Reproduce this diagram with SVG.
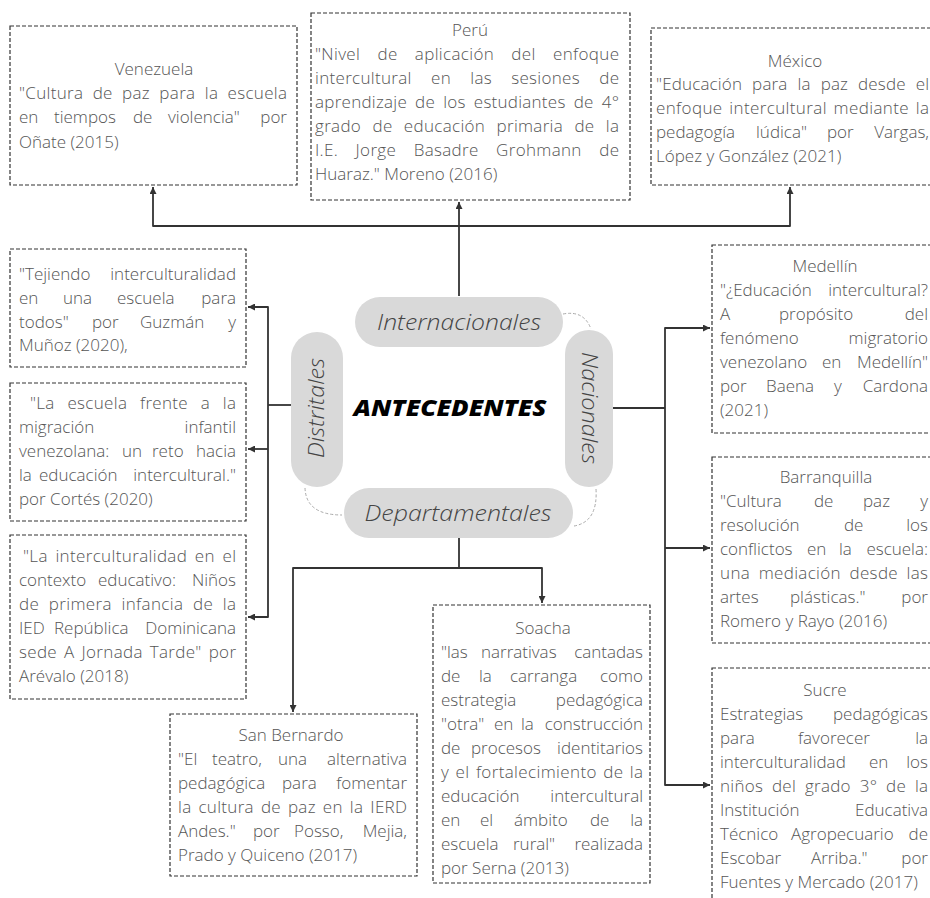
<svg xmlns="http://www.w3.org/2000/svg" width="930" height="898" viewBox="0 0 930 898">
<defs>
<style>
.box{fill:#fff;stroke:#333;stroke-width:1.2;stroke-dasharray:4 2}
.t{font-family:"Open Sans","Liberation Sans",sans-serif;font-size:17px;font-weight:300;fill:#555}
.e{text-anchor:end}
.m{text-anchor:middle}
.pill{fill:#d9d9d9}
.pt{font-family:"Open Sans","Liberation Sans",sans-serif;font-style:italic;font-size:22px;font-weight:300;fill:#444;text-anchor:middle}
.conn path{fill:none;stroke:#333;stroke-width:1.8;stroke-linejoin:round}
.conn path.arc{fill:none;stroke:#aaa;stroke-width:1;stroke-dasharray:3 2}
</style>
<marker id="ah" viewBox="0 0 10 10" refX="10" refY="5" markerWidth="7" markerHeight="7" markerUnits="userSpaceOnUse" orient="auto">
<path d="M0,0 L10,5 L0,10 z" fill="#333"/>
</marker>
</defs>
<rect width="930" height="898" fill="#fff"/>

<g id="connectors" class="conn">
<path d="M459,226 H153 V187" marker-end="url(#ah)"/>
<path d="M459,226 H790 V187" marker-end="url(#ah)"/>
<path d="M459,296 V202" marker-end="url(#ah)"/>
<path d="M291,405 H268"/>
<path d="M268,405 V307 H248" marker-end="url(#ah)"/>
<path d="M268,405 V617 H248" marker-end="url(#ah)"/>
<path d="M268,449 H248" marker-end="url(#ah)"/>
<path d="M613,408 H665"/>
<path d="M665,408 V328 H710" marker-end="url(#ah)"/>
<path d="M665,408 V785 H710" marker-end="url(#ah)"/>
<path d="M665,548 H710" marker-end="url(#ah)"/>
<path d="M459,538 V568"/>
<path d="M459,568 H293 V712" marker-end="url(#ah)"/>
<path d="M459,568 H542 V603" marker-end="url(#ah)"/>
<path class="arc" d="M563,314 Q584,310 591,329"/>
<path class="arc" d="M305,488 Q306,515 342,515"/>
<path class="arc" d="M596,489 Q598,522 574,526"/>
</g>

<g id="center">
<text x="450" y="416" text-anchor="middle" textLength="193" lengthAdjust="spacingAndGlyphs" style="font-family:'Open Sans','Liberation Sans',sans-serif;font-size:23px;font-weight:800;font-style:italic;fill:#000">ANTECEDENTES</text>
</g>

<g id="internacionales">
<rect class="pill" x="355" y="297" width="208" height="50" rx="25"/>
<text class="pt" x="459" y="330" textLength="164" lengthAdjust="spacingAndGlyphs">Internacionales</text>
</g>
<g id="departamentales">
<rect class="pill" x="344" y="488" width="229" height="50" rx="25"/>
<text class="pt" x="458" y="521" textLength="187" lengthAdjust="spacingAndGlyphs">Departamentales</text>
</g>
<g id="distritales">
<rect class="pill" x="291" y="332" width="52" height="155" rx="26"/>
<text class="pt" transform="translate(317,408) rotate(-90)" x="0" y="7" textLength="100" lengthAdjust="spacingAndGlyphs">Distritales</text>
</g>
<g id="nacionales">
<rect class="pill" x="565" y="330" width="48" height="157" rx="24"/>
<text class="pt" transform="translate(589,408) rotate(90)" x="0" y="7" textLength="112" lengthAdjust="spacingAndGlyphs">Nacionales</text>
</g>

<g id="venezuela">
<rect class="box" x="10" y="26" width="287" height="159"/>
<text class="t m" x="154" y="75">Venezuela</text>
<text class="t" x="19" y="99" textLength="268" lengthAdjust="spacing" style="word-spacing:4.6px">"Cultura de paz para la escuela</text>
<text class="t" y="123"><tspan x="19">en</tspan><tspan x="54">tiempos</tspan><tspan x="133">de</tspan><tspan x="168">violencia"</tspan></text>
<text class="t e" x="287" y="123">por</text>
<text class="t" x="19" y="148">Oñate (2015)</text>
</g>

<g id="peru">
<rect class="box" x="311" y="13" width="319" height="187"/>
<text class="t m" x="470" y="36">Perú</text>
<text class="t" x="315" y="60" textLength="304" lengthAdjust="spacing" style="word-spacing:12.5px">"Nivel de aplicación del enfoque</text>
<text class="t" x="315" y="84" textLength="304" lengthAdjust="spacing" style="word-spacing:14.5px">intercultural en las sesiones de</text>
<text class="t" x="315" y="108" textLength="304" lengthAdjust="spacing" style="word-spacing:3.4px">aprendizaje de los estudiantes de 4°</text>
<text class="t" x="315" y="132" textLength="304" lengthAdjust="spacing" style="word-spacing:6.6px">grado de educación primaria de la</text>
<text class="t" x="315" y="156" textLength="304" lengthAdjust="spacing" style="word-spacing:12.8px">I.E. Jorge Basadre Grohmann de</text>
<text class="t" x="315" y="180">Huaraz." Moreno (2016)</text>
</g>

<g id="mexico">
<rect class="box" x="651" y="28" width="290" height="157"/>
<text class="t m" x="795" y="67">México</text>
<text class="t" x="656" y="90" textLength="273" lengthAdjust="spacing" style="word-spacing:5.4px">"Educación para la paz desde el</text>
<text class="t" x="656" y="114" textLength="273" lengthAdjust="spacing" style="word-spacing:2px">enfoque intercultural mediante la</text>
<text class="t" y="138"><tspan x="656">pedagogía</tspan><tspan x="756">lúdica"</tspan><tspan x="827">por</tspan></text>
<text class="t e" x="929" y="138">Vargas,</text>
<text class="t" x="656" y="162">López y González (2021)</text>
</g>

<g id="distrital1">
<rect class="box" x="10" y="249" width="236" height="118"/>
<text class="t" x="19" y="280">"Tejiendo</text>
<text class="t e" x="236" y="280">interculturalidad</text>
<text class="t" y="304"><tspan x="19">en</tspan><tspan x="63">una</tspan><tspan x="117">escuela</tspan></text>
<text class="t e" x="236" y="304">para</text>
<text class="t" y="328"><tspan x="19">todos"</tspan><tspan x="92">por</tspan><tspan x="140">Guzmán</tspan></text>
<text class="t e" x="236" y="328">y</text>
<text class="t" x="19" y="351">Muñoz (2020),</text>
</g>

<g id="distrital2">
<rect class="box" x="10" y="383" width="236" height="138"/>
<text class="t" x="30" y="409" textLength="206" lengthAdjust="spacing" style="word-spacing:8px">"La escuela frente a la</text>
<text class="t" x="19" y="433">migración</text>
<text class="t e" x="236" y="433">infantil</text>
<text class="t" y="457"><tspan x="19">venezolana:</tspan><tspan x="122">un</tspan><tspan x="152">reto</tspan></text>
<text class="t e" x="236" y="457">hacia</text>
<text class="t" y="481"><tspan x="19">la</tspan><tspan x="39">educación</tspan></text>
<text class="t e" x="236" y="481">intercultural."</text>
<text class="t" x="19" y="505">por Cortés (2020)</text>
</g>

<g id="distrital3">
<rect class="box" x="10" y="535" width="236" height="164"/>
<text class="t" x="23" y="562" textLength="213" lengthAdjust="spacing" style="word-spacing:2.8px">"La interculturalidad en el</text>
<text class="t" y="586"><tspan x="19">contexto</tspan><tspan x="98">educativo:</tspan></text>
<text class="t e" x="236" y="586">Niños</text>
<text class="t" x="19" y="610" textLength="217" lengthAdjust="spacing" style="word-spacing:4.9px">de primera infancia de la</text>
<text class="t" y="634"><tspan x="19">IED</tspan><tspan x="54">República</tspan></text>
<text class="t e" x="236" y="634">Dominicana</text>
<text class="t" x="19" y="658" textLength="217" lengthAdjust="spacing" style="word-spacing:2.3px">sede A Jornada Tarde" por</text>
<text class="t" x="19" y="682">Arévalo (2018)</text>
</g>

<g id="san-bernardo">
<rect class="box" x="170" y="714" width="247" height="162"/>
<text class="t m" x="291" y="741">San Bernardo</text>
<text class="t" y="765"><tspan x="178">"El</tspan><tspan x="212">teatro,</tspan><tspan x="278">una</tspan></text>
<text class="t e" x="407" y="765">alternativa</text>
<text class="t" y="789"><tspan x="178">pedagógica</tspan><tspan x="282">para</tspan></text>
<text class="t e" x="407" y="789">fomentar</text>
<text class="t" x="178" y="813" textLength="229" lengthAdjust="spacing" style="word-spacing:2.3px">la cultura de paz en la IERD</text>
<text class="t" y="837"><tspan x="178">Andes."</tspan><tspan x="253">por</tspan><tspan x="294">Posso,</tspan></text>
<text class="t e" x="407" y="837">Mejia,</text>
<text class="t" x="178" y="861">Prado y Quiceno (2017)</text>
</g>

<g id="soacha">
<rect class="box" x="433" y="605" width="217" height="278"/>
<text class="t m" x="543" y="634">Soacha</text>
<text class="t" y="658"><tspan x="441">"las</tspan><tspan x="481">narrativas</tspan></text>
<text class="t e" x="643" y="658">cantadas</text>
<text class="t" y="682"><tspan x="441">de</tspan><tspan x="479">la</tspan><tspan x="510">carranga</tspan></text>
<text class="t e" x="643" y="682">como</text>
<text class="t" x="441" y="706">estrategia</text>
<text class="t e" x="643" y="706">pedagógica</text>
<text class="t" y="730"><tspan x="441">"otra"</tspan><tspan x="494">en</tspan><tspan x="521">la</tspan></text>
<text class="t e" x="643" y="730">construcción</text>
<text class="t" y="754"><tspan x="441">de</tspan><tspan x="471">procesos</tspan></text>
<text class="t e" x="643" y="754">identitarios</text>
<text class="t" x="441" y="778" textLength="202" lengthAdjust="spacing" style="word-spacing:1.6px">y el fortalecimiento de la</text>
<text class="t" x="441" y="802">educación</text>
<text class="t e" x="643" y="802">intercultural</text>
<text class="t" y="826"><tspan x="441">en</tspan><tspan x="480">el</tspan><tspan x="514">ámbito</tspan><tspan x="590">de</tspan></text>
<text class="t e" x="643" y="826">la</text>
<text class="t" y="850"><tspan x="441">escuela</tspan><tspan x="513">rural"</tspan></text>
<text class="t e" x="643" y="850">realizada</text>
<text class="t" x="441" y="874">por Serna (2013)</text>
</g>

<g id="medellin">
<rect class="box" x="712" y="245" width="230" height="188"/>
<text class="t m" x="825" y="272">Medellín</text>
<text class="t" x="720" y="296">"¿Educación</text>
<text class="t e" x="928" y="296">intercultural?</text>
<text class="t" y="320"><tspan x="720">A</tspan><tspan x="779">propósito</tspan></text>
<text class="t e" x="928" y="320">del</text>
<text class="t" x="720" y="344">fenómeno</text>
<text class="t e" x="928" y="344">migratorio</text>
<text class="t" y="368"><tspan x="720">venezolano</tspan><tspan x="822">en</tspan></text>
<text class="t e" x="928" y="368">Medellín"</text>
<text class="t" y="392"><tspan x="720">por</tspan><tspan x="766">Baena</tspan><tspan x="834">y</tspan></text>
<text class="t e" x="928" y="392">Cardona</text>
<text class="t" x="720" y="416">(2021)</text>
</g>

<g id="barranquilla">
<rect class="box" x="712" y="457" width="230" height="186"/>
<text class="t m" x="826" y="483">Barranquilla</text>
<text class="t" y="507"><tspan x="720">"Cultura</tspan><tspan x="814">de</tspan><tspan x="863">paz</tspan></text>
<text class="t e" x="928" y="507">y</text>
<text class="t" y="531"><tspan x="720">resolución</tspan><tspan x="844">de</tspan></text>
<text class="t e" x="928" y="531">los</text>
<text class="t" y="555"><tspan x="720">conflictos</tspan><tspan x="807">en</tspan><tspan x="839">la</tspan></text>
<text class="t e" x="928" y="555">escuela:</text>
<text class="t" x="720" y="579" textLength="208" lengthAdjust="spacing" style="word-spacing:3.8px">una mediación desde las</text>
<text class="t" y="603"><tspan x="720">artes</tspan><tspan x="790">plásticas."</tspan></text>
<text class="t e" x="928" y="603">por</text>
<text class="t" x="720" y="627">Romero y Rayo (2016)</text>
</g>

<g id="sucre">
<rect class="box" x="712" y="668" width="230" height="245"/>
<text class="t m" x="825" y="696">Sucre</text>
<text class="t" x="720" y="720">Estrategias</text>
<text class="t e" x="928" y="720">pedagógicas</text>
<text class="t" y="744"><tspan x="720">para</tspan><tspan x="798">favorecer</tspan></text>
<text class="t e" x="928" y="744">la</text>
<text class="t" y="768"><tspan x="720">interculturalidad</tspan><tspan x="869">en</tspan></text>
<text class="t e" x="928" y="768">los</text>
<text class="t" x="720" y="792" textLength="208" lengthAdjust="spacing" style="word-spacing:4.2px">niños del grado 3° de la</text>
<text class="t" x="720" y="816">Institución</text>
<text class="t e" x="928" y="816">Educativa</text>
<text class="t" y="840"><tspan x="720">Técnico</tspan><tspan x="791">Agropecuario</tspan></text>
<text class="t e" x="928" y="840">de</text>
<text class="t" y="864"><tspan x="720">Escobar</tspan><tspan x="811">Arriba."</tspan></text>
<text class="t e" x="928" y="864">por</text>
<text class="t" x="720" y="888">Fuentes y Mercado (2017)</text>
</g>
</svg>
